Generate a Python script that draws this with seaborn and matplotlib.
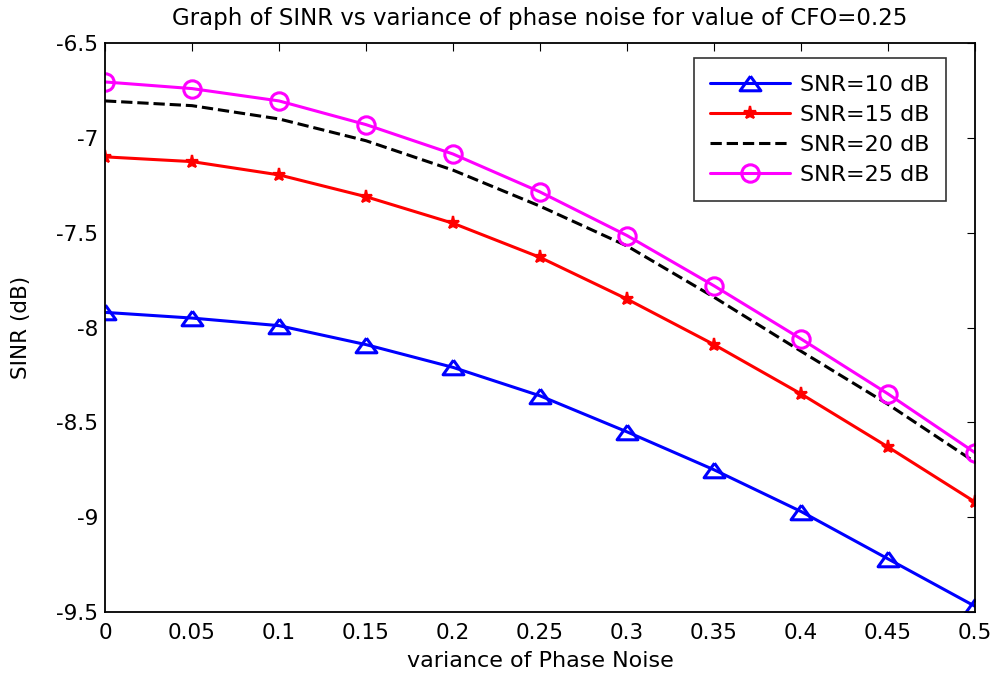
import matplotlib
matplotlib.use("Agg")
import matplotlib.pyplot as plt
import seaborn as sns
import pandas as pd

variance = [0, 0.05, 0.1, 0.15, 0.2, 0.25, 0.3, 0.35, 0.4, 0.45, 0.5]
snr10 = [-7.92, -7.95, -7.99, -8.09, -8.21, -8.36, -8.55, -8.75, -8.97, -9.22, -9.47]
snr15 = [-7.10, -7.125, -7.195, -7.31, -7.45, -7.63, -7.85, -8.09, -8.35, -8.63, -8.92]
snr20 = [-6.805, -6.83, -6.90, -7.015, -7.17, -7.36, -7.57, -7.84, -8.125, -8.405, -8.71]
snr25 = [-6.705, -6.74, -6.805, -6.93, -7.085, -7.285, -7.515, -7.78, -8.06, -8.35, -8.66]
labels = ["SNR=10 dB", "SNR=15 dB", "SNR=20 dB", "SNR=25 dB"]
xticks = [0, 0.05, 0.1, 0.15, 0.2, 0.25, 0.3, 0.35, 0.4, 0.45, 0.5]
yticks = [-9.5, -9, -8.5, -8, -7.5, -7, -6.5]

sns.set_style("white")
plt.rcParams['font.family'] = ['DejaVu Sans']
plt.rcParams['text.color'] = 'black'
plt.rcParams['axes.labelcolor'] = 'black'

fig = plt.figure(figsize=(9.95, 6.73), dpi=100)
ax = fig.add_axes([0.1055, 0.0906, 0.8745, 0.8454])

tri = [(0, 0.7), (-1, -0.7), (1, -0.7), (0, 0.7)]
styles = [
    dict(color="#0000ff", marker=tri, markersize=15, markerfacecolor="none",
         markeredgecolor="#0000ff", markeredgewidth=2.2, linestyle="-"),
    dict(color="#ff0000", marker="*", markersize=9.5, markerfacecolor="#ff0000",
         markeredgecolor="#ff0000", markeredgewidth=1.6, linestyle="-"),
    dict(color="#000000", linestyle="--"),
    dict(color="#ff00ff", marker="o", markersize=12.5, markerfacecolor="none",
         markeredgecolor="#ff00ff", markeredgewidth=2.2, linestyle="-"),
]
series = [snr10, snr15, snr20, snr25]
for ys, lab, st in zip(series, labels, styles):
    df = pd.DataFrame({"x": variance, "y": ys})
    kw = dict(st)
    ls = kw.pop("linestyle")
    sns.lineplot(data=df, x="x", y="y", ax=ax, label=lab, linewidth=2.2,
                 linestyle=ls, **kw)

ax.set_xlim(0, 0.5)
ax.set_ylim(-9.5, -6.5)
ax.set_xticks(xticks)
ax.set_xticklabels([f"{v:g}" for v in xticks])
ax.set_yticks(yticks)
ax.set_yticklabels([f"{v:g}" for v in yticks])
ax.tick_params(direction="in", top=True, right=True, length=6, width=0.8,
               labelsize=15.5, colors="black", pad=5)
ax.tick_params(axis="x", pad=8)
for s in ax.spines.values():
    s.set_color("black")
    s.set_linewidth(1.3)
ax.set_xlabel("variance of Phase Noise", fontsize=16, labelpad=6)
ax.set_ylabel("SINR (dB)", fontsize=15.5, labelpad=18)
ax.set_title("Graph of SINR vs variance of phase noise for value of CFO=0.25",
             fontsize=16.5, pad=13, color="black")
leg = ax.legend(loc="upper right", bbox_to_anchor=(0.967, 0.974), borderaxespad=0,
                fontsize=16, frameon=True, fancybox=False, edgecolor="black",
                handlelength=3.6, labelspacing=0.45, borderpad=0.75, handletextpad=0.45)
leg.get_frame().set_linewidth(1.2)
for t in leg.get_texts():
    t.set_color("black")
fig.savefig("out.png", dpi=100, facecolor="white")
